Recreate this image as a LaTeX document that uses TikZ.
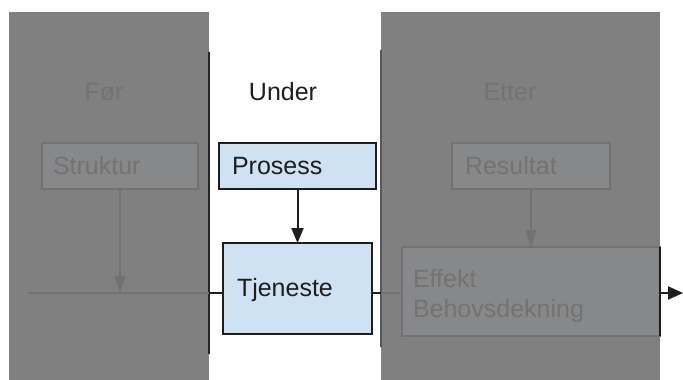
\documentclass[tikz,border=0pt]{standalone}
\usepackage{fontspec}
\setmainfont{Liberation Sans}
\usetikzlibrary{arrows.meta}
\definecolor{panelgray}{HTML}{808080}
\definecolor{fadefill}{HTML}{87888A}
\definecolor{fadeline}{HTML}{727272}
\definecolor{fadetext}{HTML}{737373}
\definecolor{boxblue}{HTML}{CFE2F3}
\definecolor{ink}{HTML}{1E1E1E}
\begin{document}
\begin{tikzpicture}[x=1pt,y=-1pt,
  font=\fontsize{25}{30}\selectfont,
  every node/.style={inner ysep=0pt, outer sep=0pt},
  livebox/.style={draw=ink, fill=boxblue, line width=2pt, text=ink,
    align=left, anchor=north west},
  fadebox/.style={draw=fadeline, fill=fadefill, line width=1.8pt, text=fadetext,
    align=left, anchor=north west},
  liveline/.style={draw=ink, line width=2pt},
  fadeline/.style={draw=fadeline, line width=1.6pt},
  livearrow/.style={liveline, -{Triangle[length=15pt,width=12pt]}},
  fadearrow/.style={fadeline, -{Triangle[length=17pt,width=11pt]}},
  heading/.style={anchor=base}
]
\useasboundingbox (0,0) rectangle (683,380);
\fill[white] (0,0) rectangle (683,380);

% shaded side panels
\fill[panelgray] (9,12) rectangle (209,380);
\fill[panelgray] (381,12) rectangle (660,380);

% column dividers
\draw[liveline, draw=black!85] (209,52) -- (209,354);
\draw[liveline, draw=black!65] (381,50) -- (381,347);

% headings
\node[heading, text=fadetext] (foer) at (104,100) {Før};
\node[heading, text=ink] (under) at (283,100) {Under};
\node[heading, text=fadetext] (etter) at (510,100) {Etter};

% boxes
\node[fadebox, text width=134pt, inner xsep=11pt, minimum height=46pt]
  (struktur) at (42,143) {Struktur};
\node[livebox, text width=131pt, inner xsep=13pt, minimum height=46pt]
  (prosess) at (219,143) {Prosess};
\node[fadebox, text width=132pt, inner xsep=13pt, minimum height=46pt]
  (resultat) at (452,143) {Resultat};
\node[livebox, text width=121pt, inner xsep=14pt, minimum height=91pt]
  (tjeneste) at (223,243) {\rule{0pt}{22pt}Tjeneste};
\node[fadebox, text width=236pt, inner xsep=11pt, minimum height=89pt]
  (effekt) at (402,247) {\rule{0pt}{28pt}Effekt\\Behovsdekning};
\draw[liveline] (effekt.north east) -- (effekt.south east);

% horizontal flow line
\coordinate (start) at (28,293);
\coordinate (leftedge) at (209,293);
\coordinate (rightedge) at (381,293);
\coordinate (finish) at (683,293);
\draw[fadeline] (start) -- (leftedge);
\draw[liveline] (leftedge) -- (tjeneste.west |- leftedge);
\draw[liveline] (tjeneste.east |- rightedge) -- (rightedge);
\draw[fadeline] (rightedge) -- (effekt.west |- rightedge);
\draw[liveline, -{Triangle[length=15pt,width=13pt]}] (effekt.east |- finish) -- (finish);

% vertical arrows
\draw[fadearrow] (struktur.south) -- (struktur.south |- start);
\draw[livearrow] (prosess.south) -- (tjeneste.north -| prosess.south);
\draw[fadearrow] (resultat.south) -- (effekt.north -| resultat.south);
\end{tikzpicture}
\end{document}
